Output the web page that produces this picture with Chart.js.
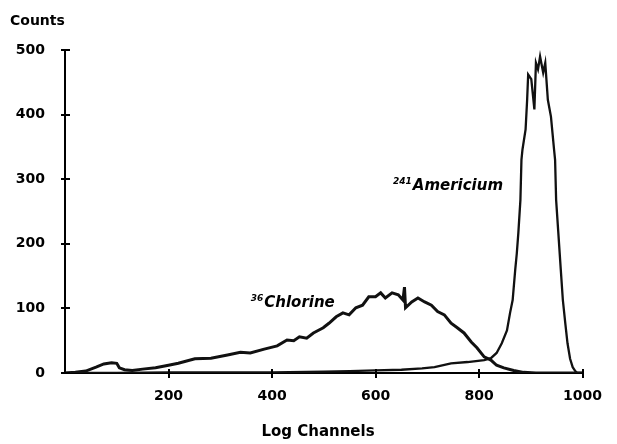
<!DOCTYPE html>
<html>
<head>
<meta charset="utf-8">
<script src="https://cdn.jsdelivr.net/npm/chart.js@4/dist/chart.umd.min.js"></script>
<style>
  html, body { margin: 0; padding: 0; background: #fff; }
  #wrap { width: 617px; height: 444px; }
</style>
</head>
<body>
<div id="wrap"><canvas id="c" width="617" height="444"></canvas></div>
<script>
// ---- data ----
const chlorineChannels = [0, 20, 40, 60, 75, 90, 100, 105, 115, 130, 150, 175, 200, 219, 251, 282, 314, 339, 358, 385, 410, 429, 442, 453, 467, 480, 499, 510, 524, 537, 549, 562, 575, 587, 600, 610, 619, 632, 644, 653, 656, 658, 670, 682, 695, 708, 720, 733, 746, 758, 771, 785, 796, 810, 823, 834, 848, 867, 886, 910, 1000];
const chlorineCounts   = [0, 1, 3, 9, 14, 16, 15, 8, 5, 4, 6, 8, 12, 15, 22, 23, 28, 32, 31, 37, 42, 51, 50, 56, 54, 62, 70, 77, 87, 93, 90, 101, 105, 118, 118, 124, 116, 124, 121, 113, 133, 101, 110, 116, 110, 105, 95, 90, 77, 70, 62, 48, 39, 25, 20, 12, 8, 4, 1, 0, 0];

const americiumChannels = [0, 100, 200, 300, 400, 500, 550, 600, 650, 690, 714, 746, 778, 810, 823, 834, 844, 854, 860, 865, 870, 873, 876, 880, 882, 884, 890, 893, 895, 901, 907, 910, 914, 918, 924, 928, 933, 939, 945, 947, 949, 953, 958, 962, 967, 971, 976, 981, 986, 990, 1000];
const americiumCounts   = [0, 0, 1, 1, 1, 2, 3, 4, 5, 7, 9, 15, 17, 20, 23, 31, 46, 66, 93, 113, 160, 185, 217, 268, 330, 346, 377, 423, 462, 455, 408, 480, 470, 490, 465, 480, 423, 397, 346, 330, 268, 220, 160, 113, 75, 46, 22, 9, 3, 0, 0];

const xTickValues = [0, 200, 400, 600, 800, 1000];
const yTickValues = [0, 100, 200, 300, 400, 500];
const xTitle = 'Log Channels';
const yTitle = 'Counts';
const seriesLabels = [{ sup: '36', name: 'Chlorine', x: 385, y: 102 }, { sup: '241', name: 'Americium', x: 672, y: 284 }];

const FONT = '"DejaVu Sans", "Liberation Sans", Arial, sans-serif';

function pts(xs, ys) { return xs.map((x, i) => ({ x: x, y: ys[i] })); }

const crossTicks = {
  id: 'crossTicks',
  afterDraw(chart) {
    const ctx = chart.ctx;
    const xs = chart.scales.x, ys = chart.scales.y;
    const ca = chart.chartArea;
    ctx.save();
    ctx.strokeStyle = '#000';
    ctx.lineWidth = 2;
    ctx.beginPath();
    xTickValues.forEach(v => {
      if (v === 0) return;
      const px = Math.round(xs.getPixelForValue(v));
      ctx.moveTo(px, ca.bottom - 4);
      ctx.lineTo(px, ca.bottom + 5);
    });
    yTickValues.forEach(v => {
      const py = Math.round(ys.getPixelForValue(v));
      ctx.moveTo(ca.left - 4, py);
      ctx.lineTo(ca.left + 5, py);
    });
    ctx.stroke();

    // axis titles
    ctx.fillStyle = '#000';
    ctx.font = 'bold 14px ' + FONT;
    ctx.textAlign = 'left';
    ctx.textBaseline = 'alphabetic';
    ctx.fillText(yTitle, 10, 25);
    ctx.font = 'bold 15px ' + FONT;
    ctx.textAlign = 'center';
    ctx.fillText(xTitle, 318, 436);

    // series labels
    seriesLabels.forEach(s => {
      const px = xs.getPixelForValue(s.x);
      const py = ys.getPixelForValue(s.y);
      ctx.textAlign = 'left';
      ctx.font = 'bold oblique 9px ' + FONT;
      const sw = ctx.measureText(s.sup).width;
      ctx.fillText(s.sup, px - sw - 1, py - 6);
      ctx.font = 'bold oblique 15px ' + FONT;
      ctx.fillText(s.name, px, py);
    });
    ctx.restore();
  }
};

new Chart(document.getElementById('c'), {
  type: 'line',
  data: {
    datasets: [
      {
        label: 'Chlorine',
        data: pts(chlorineChannels, chlorineCounts),
        borderColor: '#111',
        borderWidth: 3,
        pointRadius: 0,
        tension: 0,
        fill: false
      },
      {
        label: 'Americium',
        data: pts(americiumChannels, americiumCounts),
        borderColor: '#111',
        borderWidth: 2.3,
        pointRadius: 0,
        tension: 0,
        fill: false
      }
    ]
  },
  options: {
    responsive: false,
    animation: false,
    devicePixelRatio: 1,
    layout: { padding: { top: 50, right: 27, left: 0, bottom: 0 } },
    plugins: { legend: { display: false }, tooltip: { enabled: false } },
    scales: {
      x: {
        type: 'linear',
        min: 0, max: 1000,
        afterFit(scale) { scale.height = 71; },
        afterBuildTicks(scale) { scale.ticks = xTickValues.map(v => ({ value: v })); },
        grid: { display: false, drawTicks: false },
        border: { display: true, color: '#000', width: 2 },
        ticks: {
          padding: 15,
          color: '#000',
          font: { family: FONT, size: 14, weight: 'bold' },
          maxRotation: 0,
          callback: v => (v === 0 ? '' : String(v))
        }
      },
      y: {
        type: 'linear',
        min: 0, max: 500,
        afterFit(scale) { scale.width = 65; },
        afterBuildTicks(scale) { scale.ticks = yTickValues.map(v => ({ value: v })); },
        grid: { display: false, drawTicks: false },
        border: { display: true, color: '#000', width: 2 },
        ticks: {
          padding: 20,
          color: '#000',
          font: { family: FONT, size: 14, weight: 'bold' },
          callback: v => String(v)
        }
      }
    }
  },
  plugins: [crossTicks]
});
</script>
</body>
</html>
